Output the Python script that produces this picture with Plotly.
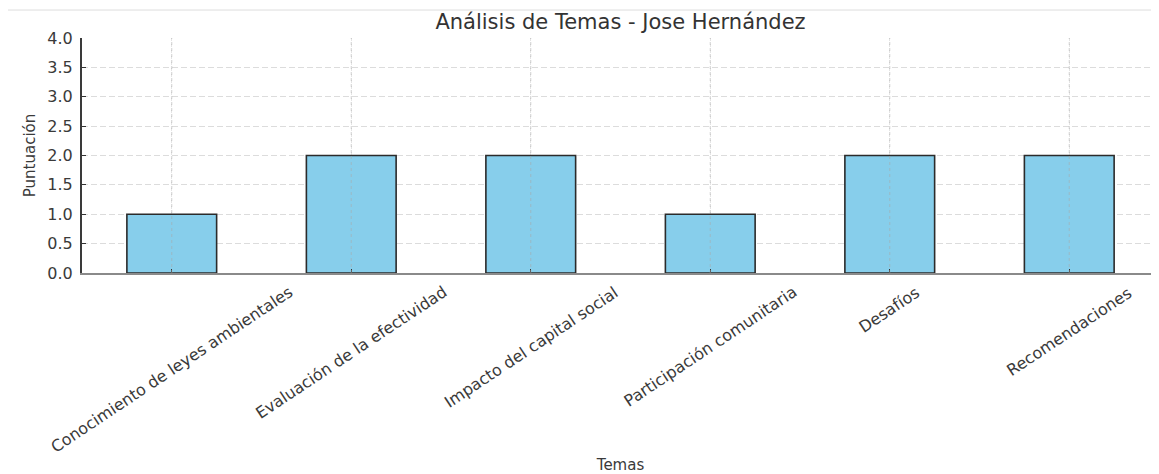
import plotly.graph_objects as go

categories = [
    "Conocimiento de leyes ambientales",
    "Evaluación de la efectividad",
    "Impacto del capital social",
    "Participación comunitaria",
    "Desafíos",
    "Recomendaciones",
]
scores = [1, 2, 2, 1, 2, 2]
y_ticks = [0.0, 0.5, 1.0, 1.5, 2.0, 2.5, 3.0, 3.5, 4.0]
title_text = "Análisis de Temas - Jose Hernández"
x_title = "Temas"
y_title = "Puntuación"

FONT = "DejaVu Sans"
TXT = "#3a3a3a"
idx = list(range(len(categories)))

fig = go.Figure()
fig.add_trace(go.Bar(
    x=idx, y=scores, width=0.5,
    marker=dict(color="#87CEEB", line=dict(color="#2b2b2b", width=1.6)),
    hoverinfo="skip",
))

# vertical grid drawn over bars (as in the reference)
for i in idx:
    fig.add_shape(type="line", xref="x", yref="paper", x0=i, x1=i, y0=0, y1=1,
                  line=dict(color="rgba(170,170,170,0.55)", width=1, dash="dot"),
                  layer="above")

# category labels, rotated and centred under each bar
for i, c in zip(idx, categories):
    fig.add_annotation(x=i, y=0, xref="x", yref="paper", text=c, showarrow=False,
                       textangle=-33.6, xanchor="center", yanchor="top", yshift=-7,
                       font=dict(family=FONT, size=16, color=TXT))

# image frame line at top
fig.add_shape(type="line", xref="paper", yref="paper", x0=-0.08, x1=1.0, y0=1.119, y1=1.119,
              line=dict(color="#dddddd", width=1))

fig.update_layout(
    width=1151, height=466,
    margin=dict(l=74, r=0, t=30, b=201, autoexpand=False),
    paper_bgcolor="white", plot_bgcolor="white",
    showlegend=False,
    font=dict(family=FONT, color=TXT),
    title=dict(text=title_text, x=0.5, xref="paper", xanchor="center",
               y=1 - 14 / 466, yref="container", yanchor="middle",
               font=dict(family=FONT, size=21, color="#333333")),
    xaxis=dict(
        range=[-0.5, 5.5], tickvals=idx, showticklabels=False,
        ticks="inside", ticklen=4, tickcolor="#333333", tickwidth=1.2,
        showgrid=True, gridcolor="#e4e4e4", griddash="dot", gridwidth=1,
        showline=True, linecolor="#8a8a8a", linewidth=2, mirror=False,
        zeroline=False,
        title=dict(text=x_title, standoff=185, font=dict(family=FONT, size=15, color=TXT)),
        automargin=False,
    ),
    yaxis=dict(
        range=[0, 4], tickvals=y_ticks, tickformat=".1f",
        ticks="inside", ticklen=4, tickcolor="#333333", tickwidth=1.2,
        ticklabelstandoff=4,
        showgrid=True, gridcolor="#dcdcdc", griddash="6px,3px", gridwidth=1,
        showline=True, linecolor="#3a3a3a", linewidth=2, mirror=False,
        zeroline=False,
        tickfont=dict(family=FONT, size=16, color=TXT),
        title=dict(text=y_title, standoff=8, font=dict(family=FONT, size=15, color=TXT)),
        automargin=False,
    ),
)

fig.write_html("out.html")
